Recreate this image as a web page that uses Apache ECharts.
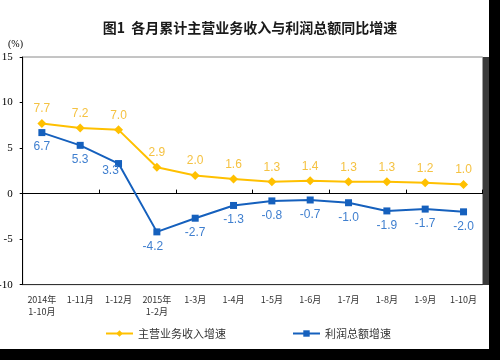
<!DOCTYPE html>
<html><head><meta charset="utf-8">
<script src="https://cdn.jsdelivr.net/npm/echarts@6/dist/echarts.min.js"></script>
<style>html,body{margin:0;padding:0;background:#fff}#c{width:500px;height:360px}</style>
</head><body><div id="c"></div>
<script>
var categories = ['2014年\n1-10月','1-11月','1-12月','2015年\n1-2月','1-3月','1-4月','1-5月','1-6月','1-7月','1-8月','1-9月','1-10月'];
var revenueGrowth = [7.7, 7.2, 7.0, 2.9, 2.0, 1.6, 1.3, 1.4, 1.3, 1.3, 1.2, 1.0];
var profitGrowth = [6.7, 5.3, 3.3, -4.2, -2.7, -1.3, -0.8, -0.7, -1.0, -1.9, -1.7, -2.0];
var seriesNames = ['主营业务收入增速', '利润总额增速'];
var yTicks = {min: -10, max: 15, interval: 5};

var chart = echarts.init(document.getElementById('c'), null, {renderer: 'canvas'});
var yellow = '#FFC000', yellowLabel = '#F5C242';
var blue = '#1560BD', blueLabel = '#3F7FCF';
var labelOffsets = {2: [-8, -7], 3: [-4, 0]};
var profitData = profitGrowth.map(function (v, i) {
  return labelOffsets[i] ? {value: v, label: {offset: labelOffsets[i]}} : v;
});
chart.setOption({
  animation: false,
  backgroundColor: '#fff',
  title: {
    text: '图1  各月累计主营业务收入与利润总额同比增速',
    left: 'center', top: 16,
    textStyle: {fontFamily: 'Noto Sans CJK SC', fontSize: 14, fontWeight: 'bold', color: '#1a1a1a'}
  },
  legend: {
    left: 105, top: 328, padding: 0, itemWidth: 27, itemHeight: 8, itemGap: 66,
    textStyle: {fontFamily: 'Noto Sans CJK SC', fontSize: 11, color: '#333'},
    data: seriesNames
  },
  grid: {left: 22.7, right: 17.3, top: 57, bottom: 75.3, outerBoundsMode: 'none', containLabel: false,
    show: true, borderColor: '#8a8a8a', borderWidth: 1, backgroundColor: '#fff'},
  xAxis: [{
    type: 'category', data: categories, boundaryGap: true, position: 'bottom',
    axisLine: {onZero: false, lineStyle: {color: '#333', width: 1}},
    axisTick: {show: false},
    axisLabel: {interval: 0, margin: 9, fontFamily: 'Noto Sans CJK SC', fontSize: 9, color: '#333', lineHeight: 12}
  }, {
    type: 'category', data: categories, boundaryGap: true, position: 'bottom',
    axisLine: {onZero: true, lineStyle: {color: '#000', width: 1}},
    axisTick: {show: true, inside: true, length: 4, lineStyle: {color: '#000'}},
    axisLabel: {show: false}
  }],
  yAxis: {
    type: 'value', min: yTicks.min, max: yTicks.max, interval: yTicks.interval,
    axisLine: {show: true, lineStyle: {color: '#000'}},
    axisTick: {show: true, length: 3, lineStyle: {color: '#000'}},
    splitLine: {show: false},
    axisLabel: {margin: 10, fontFamily: 'Liberation Serif', fontSize: 11, color: '#000'}
  },
  graphic: [
    {type: 'rect', shape: {x: 483, y: 57, width: 6, height: 228}, style: {fill: '#3a3a3a'}},
    {type: 'rect', shape: {x: 489, y: 0, width: 11, height: 360}, style: {fill: '#000'}},
    {type: 'rect', shape: {x: 0, y: 349, width: 500, height: 11}, style: {fill: '#000'}},
    {type: 'text', left: 8, top: 39, style: {text: '(%)', font: '10px "Liberation Serif"', fill: '#000'}}
  ],
  series: [{
    name: seriesNames[0], type: 'line', data: revenueGrowth, xAxisIndex: 0,
    symbol: 'diamond', symbolSize: 9,
    lineStyle: {color: yellow, width: 2}, itemStyle: {color: yellow},
    label: {show: true, position: 'top', distance: 4, formatter: function(p){return p.value.toFixed(1);},
      fontFamily: 'Liberation Sans', fontSize: 12, color: yellowLabel}
  }, {
    name: seriesNames[1], type: 'line', data: profitData, xAxisIndex: 0,
    symbol: 'rect', symbolSize: 7,
    lineStyle: {color: blue, width: 2}, itemStyle: {color: blue},
    label: {show: true, position: 'bottom', distance: 5, formatter: function(p){return p.value.toFixed(1);},
      fontFamily: 'Liberation Sans', fontSize: 12, color: blueLabel}
  }]
});
</script></body></html>
